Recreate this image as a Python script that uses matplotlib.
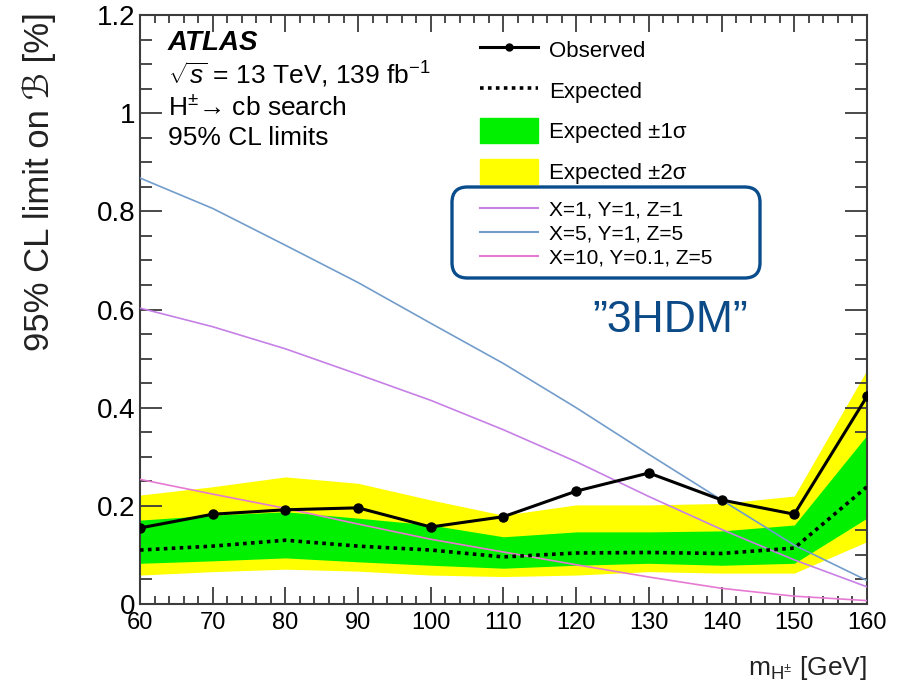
import numpy as np
import matplotlib
matplotlib.use("Agg")
import matplotlib.pyplot as plt
from matplotlib.patches import FancyBboxPatch, Patch
from matplotlib.lines import Line2D

plt.rcParams['font.family'] = ['Liberation Sans', 'DejaVu Sans']
plt.rcParams['mathtext.fontset'] = 'custom'
plt.rcParams['mathtext.rm'] = 'Liberation Sans'
plt.rcParams['mathtext.it'] = 'Liberation Sans:italic'
plt.rcParams['mathtext.bf'] = 'Liberation Sans:bold'

# charged Higgs mass points [GeV]
mass = [60, 70, 80, 90, 100, 110, 120, 130, 140, 150, 160]

# 95% CL limits on the branching ratio [%]
observed = [0.155, 0.183, 0.192, 0.196, 0.157, 0.178, 0.230, 0.267, 0.212, 0.183, 0.423]
expected = [0.110, 0.118, 0.130, 0.118, 0.110, 0.096, 0.104, 0.105, 0.103, 0.114, 0.239]
exp_1s_lo = [0.083, 0.088, 0.094, 0.086, 0.079, 0.073, 0.079, 0.083, 0.079, 0.083, 0.175]
exp_1s_hi = [0.171, 0.181, 0.188, 0.175, 0.161, 0.137, 0.147, 0.147, 0.149, 0.161, 0.344]
exp_2s_lo = [0.059, 0.066, 0.071, 0.067, 0.059, 0.056, 0.059, 0.066, 0.063, 0.063, 0.127]
exp_2s_hi = [0.222, 0.239, 0.259, 0.246, 0.212, 0.181, 0.202, 0.202, 0.205, 0.220, 0.477]

# 3HDM predictions
bench_111 = [0.603, 0.565, 0.520, 0.468, 0.415, 0.355, 0.290, 0.219, 0.152, 0.090, 0.035]
bench_515 = [0.868, 0.806, 0.731, 0.655, 0.572, 0.490, 0.400, 0.305, 0.212, 0.120, 0.048]
bench_10 = [0.254, 0.224, 0.195, 0.163, 0.132, 0.106, 0.080, 0.055, 0.032, 0.016, 0.007]
bench_labels = ['X=1, Y=1, Z=1', 'X=5, Y=1, Z=5', 'X=10, Y=0.1, Z=5']
bench_colors = ['#c680e6', '#729dcb', '#e67ad2']

fig = plt.figure(figsize=(9.05, 6.85), dpi=100)
ax = fig.add_axes([0.1547, 0.1182, 0.958 - 0.1547, 0.978 - 0.1182])

ax.fill_between(mass, exp_2s_lo, exp_2s_hi, color='#ffff00', lw=0, zorder=1)
ax.fill_between(mass, exp_1s_lo, exp_1s_hi, color='#00f000', lw=0, zorder=2)
for vals, c in zip([bench_111, bench_515, bench_10], bench_colors):
    ax.plot(mass, vals, color=c, lw=1.2, zorder=3)
ax.plot(mass, expected, color='black', lw=2.6, ls=(0, (1, 1.2)), zorder=4)
ax.plot(mass, observed, color='black', lw=2.2, marker='o', ms=6.5, zorder=5)

ax.set_xlim(60, 160)
ax.set_ylim(0, 1.2)
ax.set_xticks(np.arange(60, 161, 10))
ax.set_xticks(np.arange(60, 161, 2), minor=True)
ax.set_yticks([0, 0.2, 0.4, 0.6, 0.8, 1.0, 1.2], ['0', '0.2', '0.4', '0.6', '0.8', '1', '1.2'])
ax.set_yticks(np.arange(0, 1.21, 0.05), minor=True)

spine_c = '#3c3c3c'
for s in ax.spines.values():
    s.set_color(spine_c)
    s.set_linewidth(1.5)
ax.tick_params(which='both', direction='in', top=True, right=True, color=spine_c, width=1.3)
ax.tick_params(axis='x', which='major', length=12, labelsize=17, pad=6)
ax.tick_params(axis='x', which='minor', length=6)
ax.tick_params(axis='y', which='major', length=16, labelsize=20, pad=3)
ax.tick_params(axis='y', which='minor', length=8.5)

fig.text(0.043, 0.982, '95% CL limit on ℬ [%]', rotation=90, ha='center', va='top',
         fontsize=25, color='#222222')
ax.set_xlabel(r'm$_{\mathregular{H^{\pm}}}$ [GeV]', loc='right', fontsize=19, labelpad=14,
              color='#222222')

# experiment labels
ax.text(0.038, 0.953, 'ATLAS', transform=ax.transAxes, fontsize=20, fontweight='bold',
        style='italic', va='center')
ax.text(0.038, 0.898, r'$\sqrt{s}$ = 13 TeV, 139 fb$^{-1}$', transform=ax.transAxes,
        fontsize=19, va='center')
ax.text(0.038, 0.843, 'H$^{\\pm}$\u2192 cb search', transform=ax.transAxes,
        fontsize=19, va='center')
ax.text(0.038, 0.791, '95% CL limits', transform=ax.transAxes, fontsize=19, va='center')

# legends
h1 = [Line2D([], [], color='black', lw=2.2, marker='o', ms=5),
      Line2D([], [], color='black', lw=2.6, ls=(0, (1, 1.2))),
      Patch(color='#00f000'), Patch(color='#ffff00')]
l1 = ['Observed', 'Expected', 'Expected \u00b11\u03c3', 'Expected \u00b12\u03c3']
leg1 = ax.legend(h1, l1, loc='upper left', bbox_to_anchor=(0.468, 0.962), frameon=False,
                 fontsize=16, handlelength=2.6, handleheight=1.35, labelspacing=0.7,
                 handletextpad=0.5, borderpad=0, borderaxespad=0)
ax.add_artist(leg1)

h2 = [Line2D([], [], color=c, lw=1.5) for c in bench_colors]
ax.legend(h2, bench_labels, loc='upper left', bbox_to_anchor=(0.468, 0.686), frameon=False,
          fontsize=15, handlelength=2.75, labelspacing=0.25, handletextpad=0.55,
          borderpad=0, borderaxespad=0)

box = FancyBboxPatch((452 / 905, 1 - 278 / 685), 308 / 905, 91 / 685,
                     boxstyle='round,pad=0,rounding_size=0.017', mutation_aspect=905 / 685,
                     transform=fig.transFigure, fill=False, edgecolor='#0a4d8c', lw=2.4,
                     zorder=10)
fig.add_artist(box)
fig.text(670 / 905, 1 - 320 / 685, '\u201d3HDM\u201d', ha='center', va='center',
         fontsize=32, color='#0b4a86')

fig.savefig('out.png', dpi=100)
